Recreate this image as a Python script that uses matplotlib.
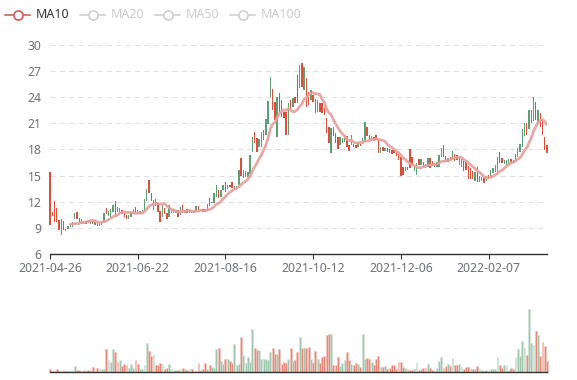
import numpy as np
import pandas as pd
import matplotlib
matplotlib.use("Agg")
import matplotlib.pyplot as plt

plt.rcParams['font.family'] = ['Noto Sans', 'DejaVu Sans']

W, H = 577, 380

tick_labels = ["2021-04-26", "2021-06-22", "2021-08-16", "2021-10-12", "2021-12-06", "2022-02-07"]
tick_every = 39

legend_names = ["MA10", "MA20", "MA50", "MA100"]
legend_active = [True, False, False, False]

open_ = [
    15.47, 10.80, 12.03, 11.26, 9.92, 8.20, 9.80, 8.85, 8.85, 9.08,
    9.15, 10.00, 10.80, 10.11, 9.46, 9.46, 9.80, 9.92, 9.50, 9.80,
    9.34, 9.54, 9.23, 9.34, 9.54, 11.26, 10.42, 10.30, 10.88, 12.03,
    11.45, 10.61, 11.07, 10.69, 10.49, 10.00, 10.23, 10.61, 11.38, 11.07,
    10.61, 10.61, 10.99, 12.03, 14.52, 13.06, 11.07, 12.30, 11.91, 10.99,
    10.30, 11.26, 10.69, 10.28, 10.74, 10.74, 10.66, 11.04, 10.47, 11.62,
    10.74, 11.12, 10.74, 10.93, 10.66, 10.85, 11.50, 10.97, 11.12, 11.12,
    10.97, 12.38, 11.81, 11.81, 12.57, 13.34, 12.57, 13.34, 14.30, 13.42,
    13.92, 14.30, 13.42, 13.42, 13.92, 16.98, 14.68, 14.87, 14.80, 15.18,
    17.75, 20.05, 19.28, 18.25, 18.32, 19.09, 19.66, 20.93, 24.07, 24.91,
    23.49, 19.47, 24.45, 23.69, 22.34, 22.34, 19.66, 23.69, 22.92, 24.00,
    26.56, 25.03, 27.98, 24.84, 26.18, 24.64, 23.69, 24.26, 23.76, 22.34,
    23.30, 23.38, 22.73, 21.58, 20.62, 17.56, 20.62, 19.85, 19.47, 18.51,
    18.70, 18.90, 19.55, 18.51, 18.51, 18.63, 18.51, 18.32, 18.63, 18.70,
    18.90, 20.54, 19.66, 19.01, 19.47, 19.62, 19.16, 17.56, 18.25, 17.86,
    18.15, 18.05, 17.94, 17.94, 17.75, 17.48, 17.10, 16.02, 15.56, 16.02,
    18.05, 17.10, 15.56, 15.07, 16.87, 16.23, 16.61, 16.34, 15.96, 16.99,
    16.72, 15.96, 15.96, 15.96, 17.11, 18.52, 17.26, 16.61, 17.11, 16.80,
    17.49, 17.38, 16.23, 15.96, 16.88, 16.61, 16.11, 15.84, 15.57, 14.43,
    15.96, 14.31, 14.43, 14.69, 14.43, 15.08, 14.89, 15.34, 15.40, 15.46,
    17.76, 16.99, 16.34, 16.23, 16.34, 16.88, 16.80, 16.61, 17.11, 17.76,
    18.33, 19.56, 21.09, 20.33, 21.02, 21.32, 23.50, 20.94, 22.24, 21.40,
    19.48, 18.52,
]

close = [
    9.34, 10.42, 9.73, 9.73, 8.77, 10.00, 8.77, 8.66, 9.23, 9.46,
    9.73, 10.69, 10.00, 9.73, 10.00, 9.80, 9.46, 9.54, 9.92, 9.46,
    9.73, 9.23, 9.54, 9.73, 10.69, 10.61, 10.99, 11.15, 11.64, 10.30,
    10.88, 11.26, 10.61, 10.30, 10.07, 10.49, 10.88, 11.15, 10.69, 10.61,
    10.99, 11.07, 12.30, 13.44, 13.06, 12.03, 12.22, 11.53, 10.88, 9.73,
    11.64, 10.61, 10.03, 11.62, 11.12, 11.12, 11.04, 10.28, 11.43, 10.66,
    11.04, 10.74, 11.04, 10.66, 10.97, 11.50, 11.04, 11.12, 10.85, 10.85,
    11.73, 11.50, 12.00, 12.96, 13.92, 12.38, 13.34, 13.92, 13.15, 13.92,
    13.65, 13.53, 13.80, 13.80, 15.64, 14.95, 15.64, 15.56, 15.45, 17.36,
    19.39, 18.70, 17.75, 19.16, 20.05, 20.24, 21.46, 23.61, 26.37, 22.54,
    21.39, 24.07, 22.34, 21.77, 21.58, 19.66, 23.30, 22.54, 23.88, 23.30,
    23.30, 27.71, 25.22, 27.52, 22.92, 23.11, 24.84, 23.49, 22.23, 23.69,
    22.34, 22.15, 21.96, 19.85, 18.70, 20.43, 19.55, 18.70, 18.02, 19.39,
    19.28, 19.66, 18.32, 17.86, 19.66, 18.25, 18.21, 18.90, 18.40, 19.28,
    21.20, 19.55, 19.09, 19.55, 19.01, 19.09, 17.56, 18.25, 17.86, 18.21,
    17.75, 17.56, 17.48, 17.56, 17.25, 16.79, 14.95, 15.07, 15.95, 15.64,
    15.83, 16.21, 16.02, 16.40, 16.21, 16.92, 15.96, 15.84, 16.99, 15.84,
    16.11, 16.49, 16.57, 17.38, 18.14, 17.11, 16.61, 16.99, 16.72, 17.87,
    16.72, 16.80, 17.11, 16.88, 15.57, 15.65, 14.58, 14.58, 14.58, 15.46,
    14.31, 14.96, 14.89, 14.20, 14.89, 14.58, 15.65, 15.84, 16.20, 17.11,
    16.42, 16.42, 16.80, 16.80, 16.88, 16.42, 16.42, 17.49, 18.14, 18.64,
    20.33, 21.09, 19.67, 22.55, 22.55, 24.00, 21.40, 22.55, 20.63, 19.67,
    17.95, 17.57,
]

volume = [
    3.3, 0.7, 1.0, 2.7, 0.7, 0.3, 1.7, 1.0, 1.3, 1.3,
    2.0, 6.0, 1.7, 2.0, 0.7, 2.0, 1.3, 1.7, 1.7, 4.7,
    1.0, 4.0, 3.0, 3.0, 3.0, 23.0, 12.0, 10.0, 22.7, 20.0,
    10.0, 11.7, 6.0, 8.0, 6.7, 4.0, 8.0, 4.0, 11.7, 7.7,
    3.0, 3.0, 7.3, 28.7, 20.7, 16.3, 16.7, 7.0, 7.0, 8.7,
    8.0, 3.3, 4.0, 8.0, 3.0, 2.0, 1.7, 1.7, 3.3, 4.0,
    3.3, 2.0, 3.0, 3.0, 1.3, 1.3, 8.7, 2.0, 3.0, 9.0,
    3.3, 6.7, 4.7, 4.3, 22.7, 24.3, 10.7, 8.0, 12.7, 12.7,
    11.3, 8.7, 28.0, 7.0, 8.0, 35.0, 16.7, 8.7, 14.7, 10.0,
    42.7, 23.7, 22.0, 22.0, 12.7, 12.7, 12.7, 12.0, 20.0, 23.7,
    18.0, 18.0, 23.0, 7.7, 10.0, 9.3, 12.7, 24.0, 11.0, 12.3,
    19.7, 35.0, 24.3, 23.7, 23.7, 25.3, 12.7, 9.3, 21.0, 12.7,
    8.7, 14.7, 16.0, 37.0, 38.0, 38.0, 7.0, 7.0, 14.7, 6.3,
    9.3, 12.0, 20.0, 12.0, 7.7, 6.7, 9.3, 8.0, 5.3, 38.0,
    12.7, 14.0, 13.3, 10.0, 7.0, 12.7, 16.0, 4.7, 4.7, 6.0,
    3.0, 3.7, 7.0, 6.7, 3.0, 10.0, 10.3, 4.7, 3.7, 3.0,
    2.0, 1.7, 3.0, 9.0, 2.0, 3.0, 3.7, 4.0, 8.3, 4.0,
    1.7, 1.7, 4.0, 11.0, 15.0, 4.3, 6.0, 7.7, 6.0, 14.0,
    7.0, 7.0, 7.7, 4.7, 3.0, 4.7, 5.0, 2.7, 3.0, 3.0,
    6.0, 2.7, 1.7, 1.0, 1.7, 1.3, 3.3, 2.7, 2.7, 15.3,
    6.7, 4.3, 6.7, 6.0, 1.7, 3.7, 3.3, 14.7, 22.7, 16.0,
    30.7, 23.7, 16.7, 62.7, 28.7, 27.3, 40.7, 37.0, 16.0, 29.7,
    25.7, 11.3,
]

UP = "#5c9f74"
DOWN = "#dc4f3b"
UP_VOL = "#9fc6ae"
DOWN_VOL = "#e98878"
MA_COLOR = "#e6a09c"
LABEL = "#6e7079"
AXIS = "#333333"

o = np.array(open_)
c = np.array(close)
v = np.array(volume)
n = len(c)
x = np.arange(n)
rising = c >= o
lo = np.minimum(o, c)
hi = np.maximum(o, c)
ma10 = pd.Series(c).rolling(10).mean()

fig = plt.figure(figsize=(W / 100, H / 100), dpi=100)

# price panel
ax = fig.add_axes([50 / W, 1 - 254 / H, 497 / W, 209 / H])
ax.bar(x, hi - lo, bottom=lo, width=0.62,
       color=np.where(rising, UP, DOWN), linewidth=0, clip_on=False, zorder=2)
ax.plot(x, ma10, color=MA_COLOR, lw=2.0, alpha=0.9, zorder=3,
        solid_capstyle='round')

ax.set_xlim(0, n - 1)
ax.set_ylim(6, 30)
ax.set_yticks(np.arange(6, 31, 3))
ticks = np.arange(0, n, tick_every)
ax.set_xticks(ticks)
ax.set_xticklabels(tick_labels[:len(ticks)])
ax.yaxis.grid(True, color="#e0e0e0", lw=0.75, linestyle=(0, (5, 4)))
ax.set_axisbelow(True)
for side in ["top", "right", "left"]:
    ax.spines[side].set_visible(False)
ax.spines["bottom"].set_color(AXIS)
ax.spines["bottom"].set_linewidth(1.0)
ax.tick_params(axis="y", length=0, pad=6, labelsize=8.8, labelcolor=LABEL)
ax.tick_params(axis="x", length=3.6, width=0.8, color=AXIS, pad=2.5,
               labelsize=8.8, labelcolor=LABEL)

# volume panel
ax2 = fig.add_axes([50 / W, 1 - 372 / H, 497 / W, 72 / H])
ax2.bar(x, v, width=0.82, color=np.where(rising, UP_VOL, DOWN_VOL),
        edgecolor=np.where(rising, "#d3e6da", "#f5c6bd"), linewidth=0.4,
        clip_on=False)
ax2.set_xlim(0, n - 1)
ax2.set_ylim(0, 72)
ax2.set_xticks([])
ax2.set_yticks([])
for side in ["top", "right", "left"]:
    ax2.spines[side].set_visible(False)
ax2.spines["bottom"].set_color(AXIS)
ax2.spines["bottom"].set_linewidth(1.0)

# legend (drawn in pixel coordinates)
ov = fig.add_axes([0, 0, 1, 1])
ov.set_xlim(0, W)
ov.set_ylim(H, 0)
ov.axis("off")
for k, name in enumerate(legend_names):
    x0 = 5 + 75 * k
    col = "#d4504a" if legend_active[k] else "#cccccc"
    tcol = "#333333" if legend_active[k] else "#cccccc"
    ov.plot([x0, x0 + 25], [15, 15], color=col, lw=1.1)
    ov.plot([x0 + 12.5], [15], marker="o", ms=6.6, mfc="white", mec=col, mew=1.1)
    ov.text(x0 + 31, 15, name, color=tcol, fontsize=9, va="center", ha="left")

fig.savefig("out.png", dpi=100)
